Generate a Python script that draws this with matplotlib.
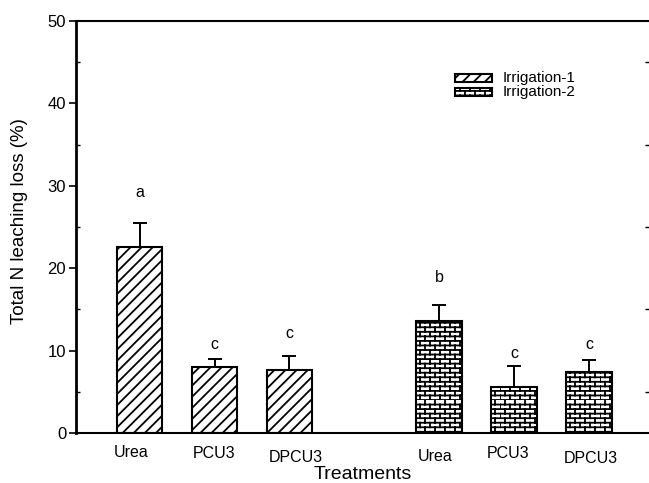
import numpy as np
import matplotlib
matplotlib.use("Agg")
import matplotlib.pyplot as plt
import matplotlib.hatch as mhatch
from matplotlib.path import Path
from matplotlib.patches import Rectangle
from matplotlib.transforms import ScaledTranslation

# ---------------- data ----------------
treatments = ["Urea", "PCU3", "DPCU3"]
groups = ["Irrigation-1", "Irrigation-2"]
irr1_values = [22.6, 8.0, 7.7]
irr1_errors = [2.9, 1.0, 1.6]
irr2_values = [13.6, 5.6, 7.4]
irr2_errors = [1.9, 2.5, 1.4]
irr1_letters = ["a", "c", "c"]
irr2_letters = ["b", "c", "c"]
irr1_letter_y = [29.2, 10.8, 12.1]
irr2_letter_y = [18.9, 9.6, 10.8]
y_ticks = [0, 10, 20, 30, 40, 50]

# ---------------- custom brick hatch (replaces the '*' star hatch) ----------------
class BrickHatch(mhatch.HatchPatternBase):
    def __init__(self, hatch, density):
        n = hatch.count('*')
        self.rows = 22 if n else 0
        self.cols = 10
        self.num_vertices = (self.rows * 2 + self.rows * self.cols * 2) if n else 0

    def set_vertices_and_codes(self, vertices, codes):
        r, c = self.rows, self.cols
        k = 0
        for i in range(r):
            y0 = i / r
            vertices[k] = (0.0, y0); codes[k] = Path.MOVETO; k += 1
            vertices[k] = (1.0, y0); codes[k] = Path.LINETO; k += 1
        for i in range(r):
            y0 = i / r
            y1 = (i + 1) / r
            shift = 0.5 * (i % 2)
            for j in range(c):
                x = ((j + shift) / c) % 1.0
                vertices[k] = (x, y0); codes[k] = Path.MOVETO; k += 1
                vertices[k] = (x, y1); codes[k] = Path.LINETO; k += 1

mhatch._hatch_types[mhatch._hatch_types.index(mhatch.Stars)] = BrickHatch

plt.rcParams['font.family'] = ['Liberation Sans', 'DejaVu Sans']
plt.rcParams['hatch.linewidth'] = 1.3
plt.rcParams['hatch.color'] = 'black'

fig = plt.figure(figsize=(6.49, 4.83), dpi=100)
ax = fig.add_axes([0.117, 0.1035, 0.883, 0.853])

x1 = np.arange(len(treatments))
x2 = np.arange(len(treatments)) + len(treatments) + 1
width = 0.61

hatches = ['///', '*']
for xs, vals, errs, letters, ly, h in [
        (x1, irr1_values, irr1_errors, irr1_letters, irr1_letter_y, hatches[0]),
        (x2, irr2_values, irr2_errors, irr2_letters, irr2_letter_y, hatches[1])]:
    ax.bar(xs, vals, width=width, color='white', edgecolor='black',
           linewidth=1.5, hatch=h, zorder=2)
    ax.errorbar(xs, vals, yerr=[np.zeros(len(errs)), errs], fmt='none',
                ecolor='black', elinewidth=1.4, capsize=5, capthick=1.4, zorder=3)
    for xi, t, yy in zip(xs, letters, ly):
        ax.text(xi, yy, t, ha='center', va='center', fontsize=11.5)

ax.set_ylim(0, 50)
ax.set_xlim(-0.85, 6.8)
ax.set_yticks(y_ticks)
ax.set_yticks(np.arange(5, 50, 10), minor=True)
ax.tick_params(axis='y', which='major', direction='out', length=5, width=1.2,
               labelsize=12, right=False, pad=2)
ax.tick_params(axis='y', which='minor', direction='in', length=3, width=1.0,
               left=True, right=True)

all_x = np.concatenate([x1, x2])
ax.set_xticks(all_x)
ax.set_xticklabels(treatments + treatments)
ax.tick_params(axis='x', length=0, labelsize=11.5, pad=10)
label_dx = [-8, 0, 6, -4, -6, 2]
label_dy = [2, 1, -3, -2, 1, -4]
for lab, dx, dy in zip(ax.get_xticklabels(), label_dx, label_dy):
    lab.set_transform(lab.get_transform() + ScaledTranslation(dx / 100, dy / 100, fig.dpi_scale_trans))

ax.spines['right'].set_visible(False)
ax.spines['left'].set_linewidth(2.0)
ax.spines['bottom'].set_linewidth(1.5)
ax.spines['top'].set_linewidth(1.5)

ax.set_xlabel("Treatments", fontsize=14)
ax.xaxis.label.set_va('center')
ax.xaxis.set_label_coords(0.5, -0.0995)
ax.set_ylabel("Total N leaching loss (%)", fontsize=13.5)
ax.yaxis.label.set_va('center')
ax.yaxis.set_label_coords(-0.0977, 0.515)

# legend drawn in axes fraction coordinates
for i, (g, h) in enumerate(zip(groups, hatches)):
    y_top = 0.872 - i * 0.034
    ax.add_patch(Rectangle((0.6615, y_top - 0.021), 0.0645, 0.021, transform=ax.transAxes,
                           facecolor='white', edgecolor='black', linewidth=1.5, hatch=h,
                           clip_on=False))
    ax.text(0.744, y_top - 0.0105, g, transform=ax.transAxes, ha='left', va='center',
            fontsize=11)

fig.savefig("out.png", dpi=100)
